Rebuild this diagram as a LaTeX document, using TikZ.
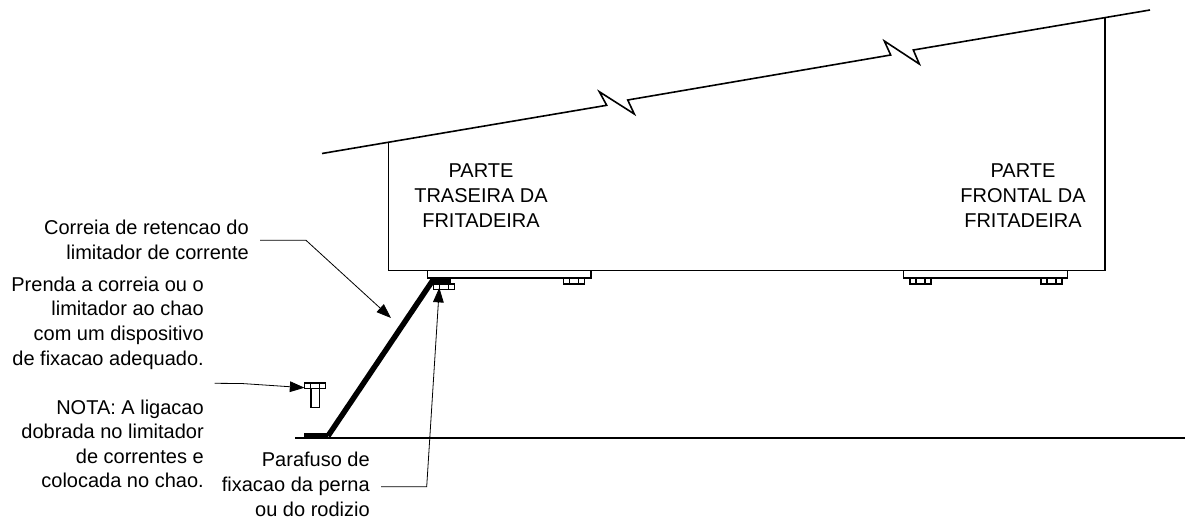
\documentclass[tikz,border=0pt]{standalone}
\usepackage{fontspec}
\setmainfont{Liberation Sans}
\usetikzlibrary{arrows.meta}
\tikzset{
  outline/.style={ line width=1.2pt, line join=miter },
  leader/.style={ line width=0.6pt, -{Triangle[length=11pt, width=8pt]} },
  nutbox/.style={ line width=1pt },
  note/.style={ inner sep=0pt, align=right, anchor=base east, font=\fontsize{15}{18.4}\selectfont },
  heading/.style={ inner sep=0pt, align=center, anchor=base, font=\fontsize{15}{18.4}\selectfont }
}
\newcommand{\nutat}[2]{%
  \draw[nutbox] (#1, #2) rectangle ++(21, 5.5);
  \draw[nutbox] (#1+6, #2) -- ++(0, 5.5) (#1+15, #2) -- ++(0, 5.5);
}
\begin{document}
\begin{tikzpicture}[x=0.75pt, y=-0.75pt]
      \useasboundingbox (0, 0) rectangle (1185, 521);

      % fryer body and broken top edge
      \draw[outline] (322, 153.5) -- (606.7, 105.3) -- (599.3, 91.7) -- (634.3, 114) -- (627.7, 100)
        -- (890.7, 55) -- (884.3, 41) -- (919.3, 64) -- (913.3, 50) -- (1150, 10);
      \draw[outline] (388.3, 142.3) -- (388.3, 270.5) -- (1105, 270.5) -- (1105, 18);

      % plinths
      \draw[outline] (427.5, 270.5) -- (427.5, 278) -- (590.7, 278) -- (590.7, 270.5);
      \draw[outline] (903.5, 270.5) -- (903.5, 278) -- (1067.3, 278) -- (1067.3, 270.5);

      % feet
      \foreach \footx in {563.3, 910, 1041} {
        \nutat{\footx}{278.5}
      }
      \fill (432, 278) rectangle (451, 284);
      \nutat{433.5}{284}

      % floor and strap
      \draw[outline] (295, 438) -- (1185, 438);
      \fill (304, 432.7) rectangle (328, 438);
      \draw[line width=4.1pt] (433, 280) -- (328, 436);

      % loose bolt
      \nutat{304.5}{383}
      \draw[nutbox] (311, 388.5) rectangle (319.3, 407.7);

      % labels
      \node[heading] (rear) at (481, 227) {PARTE\\TRASEIRA DA\\FRITADEIRA};
      \node[heading] (front) at (1023, 227) {PARTE\\FRONTAL DA\\FRITADEIRA};
      \node[note] (strap) at (249, 259) {Correia de retencao do\\limitador de corrente};
      \node[note] (fix) at (204, 365) {Prenda a correia ou o\\limitador ao chao\\com um dispositivo\\de fixacao adequado.};
      \node[note] (nota) at (204, 487.7) {NOTA: A ligacao\\dobrada no limitador\\de correntes e\\colocada no chao.};
      \node[note] (screw) at (370, 516) {Parafuso de\\fixacao da perna\\ou do rodizio};

      % leaders
      \coordinate (strapA) at (260, 240.3);
      \coordinate (strapB) at (306, 240.3);
      \coordinate (strapC) at (391, 318);
      \coordinate (fixA) at (214.7, 383.3);
      \coordinate (fixB) at (241.7, 383.5);
      \coordinate (fixC) at (304.5, 387.7);
      \coordinate (screwA) at (381, 486.7);
      \coordinate (screwB) at (426.7, 486.7);
      \coordinate (screwC) at (439.3, 287.7);
      \draw[leader] (strapA) -- (strapB) -- (strapC);
      \draw[leader] (fixA) -- (fixB) -- (fixC);
      \draw[leader] (screwA) -- (screwB) -- (screwC);

    \end{tikzpicture}
\end{document}
